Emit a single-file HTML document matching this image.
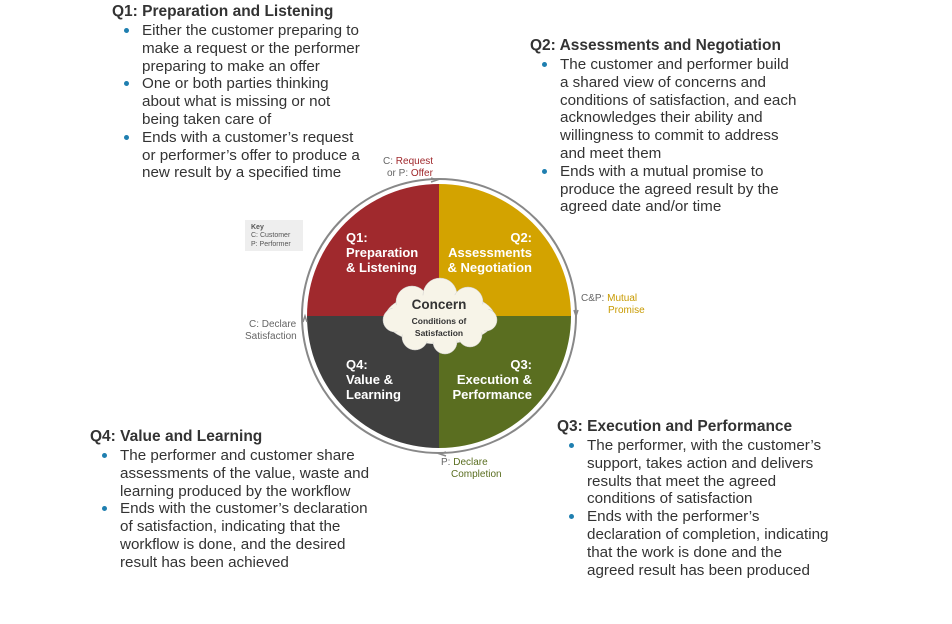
<!DOCTYPE html>
<html><head><meta charset="utf-8"><style>
body{margin:0;width:952px;height:624px;background:#fff;position:relative;overflow:hidden;font-family:"Liberation Sans",Arial,sans-serif;color:#333}
.blk{position:absolute;font-size:15.2px;line-height:17.8px}
.blk h3{margin:0;font-size:15.5px;font-weight:bold;color:#333;line-height:18px}
.blk ul{margin:1px 0 0 0;padding:0;list-style:none}
.blk li{position:relative;padding-left:30px}
.blk li:before{content:"";position:absolute;left:12px;top:6px;width:5px;height:5px;border-radius:50%;background:#1f7fb0}
</style></head><body>
<div class="blk" style="left:112px;top:3px;width:256px"><h3>Q1: Preparation and Listening</h3><ul>
<li>Either the customer preparing to make a request or the performer preparing to make an offer</li>
<li>One or both parties thinking about what is missing or not being taken care of</li>
<li>Ends with a customer’s request or performer’s offer to produce a new result by a specified time</li></ul></div>
<div class="blk" style="left:530px;top:37px;width:269px"><h3 style="white-space:nowrap">Q2: Assessments and Negotiation</h3><ul>
<li>The customer and performer build a shared view of concerns and conditions of satisfaction, and each acknowledges their ability and willingness to commit to address and meet them</li>
<li>Ends with a mutual promise to produce the agreed result by the agreed date and/or time</li></ul></div>
<div class="blk" style="left:90px;top:428px;width:290px"><h3>Q4: Value and Learning</h3><ul>
<li>The performer and customer share assessments of the value, waste and learning produced by the workflow</li>
<li>Ends with the customer’s declaration of satisfaction, indicating that the workflow is done, and the desired result has been achieved</li></ul></div>
<div class="blk" style="left:557px;top:418px;width:276px"><h3>Q3: Execution and Performance</h3><ul>
<li>The performer, with the customer’s support, takes action and delivers results that meet the agreed conditions of satisfaction</li>
<li>Ends with the performer’s declaration of completion, indicating that the work is done and the agreed result has been produced</li></ul></div>

<svg style="position:absolute;left:0;top:0" width="952" height="624">
<circle cx="439" cy="316" r="137" fill="none" stroke="#888" stroke-width="2"/>
<path d="M439,316 L439,184 A132,132 0 0 0 307,316 Z" fill="#a0292d"/>
<path d="M439,316 L439,184 A132,132 0 0 1 571,316 Z" fill="#d3a300"/>
<path d="M439,316 L571,316 A132,132 0 0 1 439,448 Z" fill="#5a6e20"/>
<path d="M439,316 L439,448 A132,132 0 0 1 307,316 Z" fill="#3f3f3f"/>
<path d="M431,178 l6,2 l-6,2 M574,310 l2,6 l2,-6 M446,452 l-6,2 l6,2 M303,322 l2,-6 l2,6" stroke="#888" stroke-width="1.5" fill="none"/>
<g fill="#f7f4e8" stroke="#ccc" stroke-width="0.5">
<ellipse cx="440" cy="318" rx="55" ry="26"/>
<circle cx="412" cy="302" r="16"/><circle cx="440" cy="295" r="17"/><circle cx="468" cy="302" r="15"/>
<circle cx="395" cy="320" r="12"/><circle cx="486" cy="320" r="11"/>
<circle cx="415" cy="337" r="13"/><circle cx="445" cy="342" r="12"/><circle cx="470" cy="335" r="12"/>
</g>
<ellipse cx="440" cy="318" rx="52" ry="24" fill="#f7f4e8"/>
<g font-family="Liberation Sans,Arial,sans-serif" font-weight="bold" fill="#fff" font-size="13">
<text x="346" y="242">Q1:</text><text x="346" y="257">Preparation</text><text x="346" y="272">&amp; Listening</text>
<text x="532" y="242" text-anchor="end">Q2:</text><text x="532" y="257" text-anchor="end">Assessments</text><text x="532" y="272" text-anchor="end">&amp; Negotiation</text>
<text x="346" y="369">Q4:</text><text x="346" y="384">Value &amp;</text><text x="346" y="399">Learning</text>
<text x="532" y="369" text-anchor="end">Q3:</text><text x="532" y="384" text-anchor="end">Execution &amp;</text><text x="532" y="399" text-anchor="end">Performance</text>
</g>
<g font-family="Liberation Sans,Arial,sans-serif" font-weight="bold" fill="#333" text-anchor="middle">
<text x="439" y="309" font-size="13.5">Concern</text>
<text x="439" y="324" font-size="8.5">Conditions of</text>
<text x="439" y="336" font-size="8.5">Satisfaction</text>
</g>
<rect x="245" y="220" width="58" height="31" fill="#eee"/>
<g font-family="Liberation Sans,Arial,sans-serif" font-size="7" fill="#555">
<text x="251" y="229" font-weight="bold">Key</text><text x="251" y="237">C: Customer</text><text x="251" y="246">P: Performer</text>
</g>
<g font-family="Liberation Sans,Arial,sans-serif" font-size="10" fill="#666">
<text x="383" y="164">C: <tspan fill="#a0292d">Request</tspan></text>
<text x="387" y="176">or P: <tspan fill="#a0292d">Offer</tspan></text>
<text x="581" y="301">C&amp;P: <tspan fill="#c89a00">Mutual</tspan></text>
<text x="608" y="313" fill="#c89a00">Promise</text>
<text x="249" y="327">C: Declare</text>
<text x="245" y="339">Satisfaction</text>
<text x="441" y="465">P: <tspan fill="#5a6e20">Declare</tspan></text>
<text x="451" y="477" fill="#5a6e20">Completion</text>
</g>
</svg>
</body></html>
